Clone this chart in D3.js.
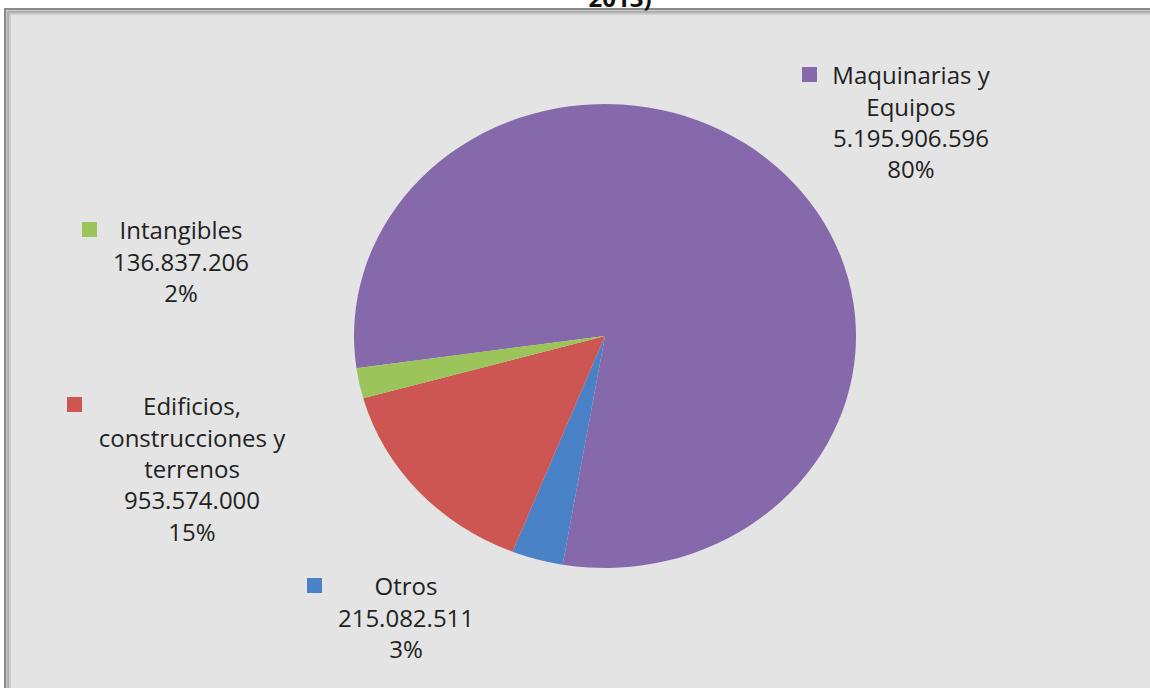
<!DOCTYPE html>
<html><head><meta charset="utf-8">
<script src="https://cdn.jsdelivr.net/npm/d3@7"></script>
<style>html,body{margin:0;padding:0;background:#fff;overflow:hidden}</style>
</head><body>
<svg id="c" width="1150" height="688"></svg>
<script>
const categories = ["Maquinarias y Equipos", "Otros", "Edificios, construcciones y terrenos", "Intangibles"];
const values = [5195906596, 215082511, 953574000, 136837206];
const labelLines = [["Maquinarias y", "Equipos"], ["Otros"], ["Edificios,", "construcciones y", "terrenos"], ["Intangibles"]];
const colors = ["#8669ab", "#4a82c8", "#cd5552", "#9bc45a"];
const titleText = "2013)";

const svg = d3.select("#c");

// frame
svg.append("rect").attr("x", 5).attr("y", 9).attr("width", 1160).attr("height", 700)
  .attr("fill", "#e4e4e4").attr("stroke", "#8a8a8a").attr("stroke-width", 2);
svg.append("rect").attr("x", 8).attr("y", 12).attr("width", 1160).attr("height", 700)
  .attr("fill", "none").attr("stroke", "#b0b0b0").attr("stroke-width", 3);
svg.append("rect").attr("x", 10.5).attr("y", 14.5).attr("width", 1160).attr("height", 700)
  .attr("fill", "none").attr("stroke", "#cfcfcf").attr("stroke-width", 1);

// title (cut at top, as in the reference)
svg.append("text").attr("x", 620).attr("y", 7).attr("text-anchor", "middle")
  .attr("font-family", "Open Sans, sans-serif").attr("font-weight", "bold")
  .attr("font-size", 24).attr("fill", "#111").text(titleText);

// pie
const total = d3.sum(values);
const cx = 605, cy = 336, rx = 251, ry = 232;
const pie = d3.pie().sort(null).value(d => d)
  .startAngle(-98 * Math.PI / 180).endAngle((360 - 98) * Math.PI / 180);
const arcs = pie(values);
const arc = d3.arc().innerRadius(0).outerRadius(rx);
const g = svg.append("g").attr("transform", `translate(${cx},${cy}) scale(1,${ry / rx})`);
g.selectAll("path").data(arcs).join("path")
  .attr("d", arc).attr("fill", (d, i) => colors[i]);

// labels
const loc = d3.formatLocale({decimal: ",", thousands: ".", grouping: [3], currency: ["", ""]});
const fmt = loc.format(",d");
const layout = [
  {x: 911, y: 76, kx: 802, ky: 67},
  {x: 406, y: 587, kx: 307, ky: 578},
  {x: 192, y: 407, kx: 67, ky: 397},
  {x: 181, y: 231, kx: 82, ky: 222}
];
const lh = 31.3;
categories.forEach((c, i) => {
  const L = layout[i];
  const lines = labelLines[i].concat([fmt(values[i]), Math.round(values[i] / total * 100) + "%"]);
  svg.append("rect").attr("x", L.kx).attr("y", L.ky).attr("width", 15).attr("height", 15)
    .attr("fill", colors[i]);
  const t = svg.append("text").attr("text-anchor", "middle")
    .attr("font-family", "Open Sans, sans-serif").attr("font-size", 24).attr("fill", "#222");
  lines.forEach((s, j) => {
    t.append("tspan").attr("x", L.x).attr("y", L.y + j * lh).attr("dy", "0.35em").text(s);
  });
});
</script>
</body></html>
